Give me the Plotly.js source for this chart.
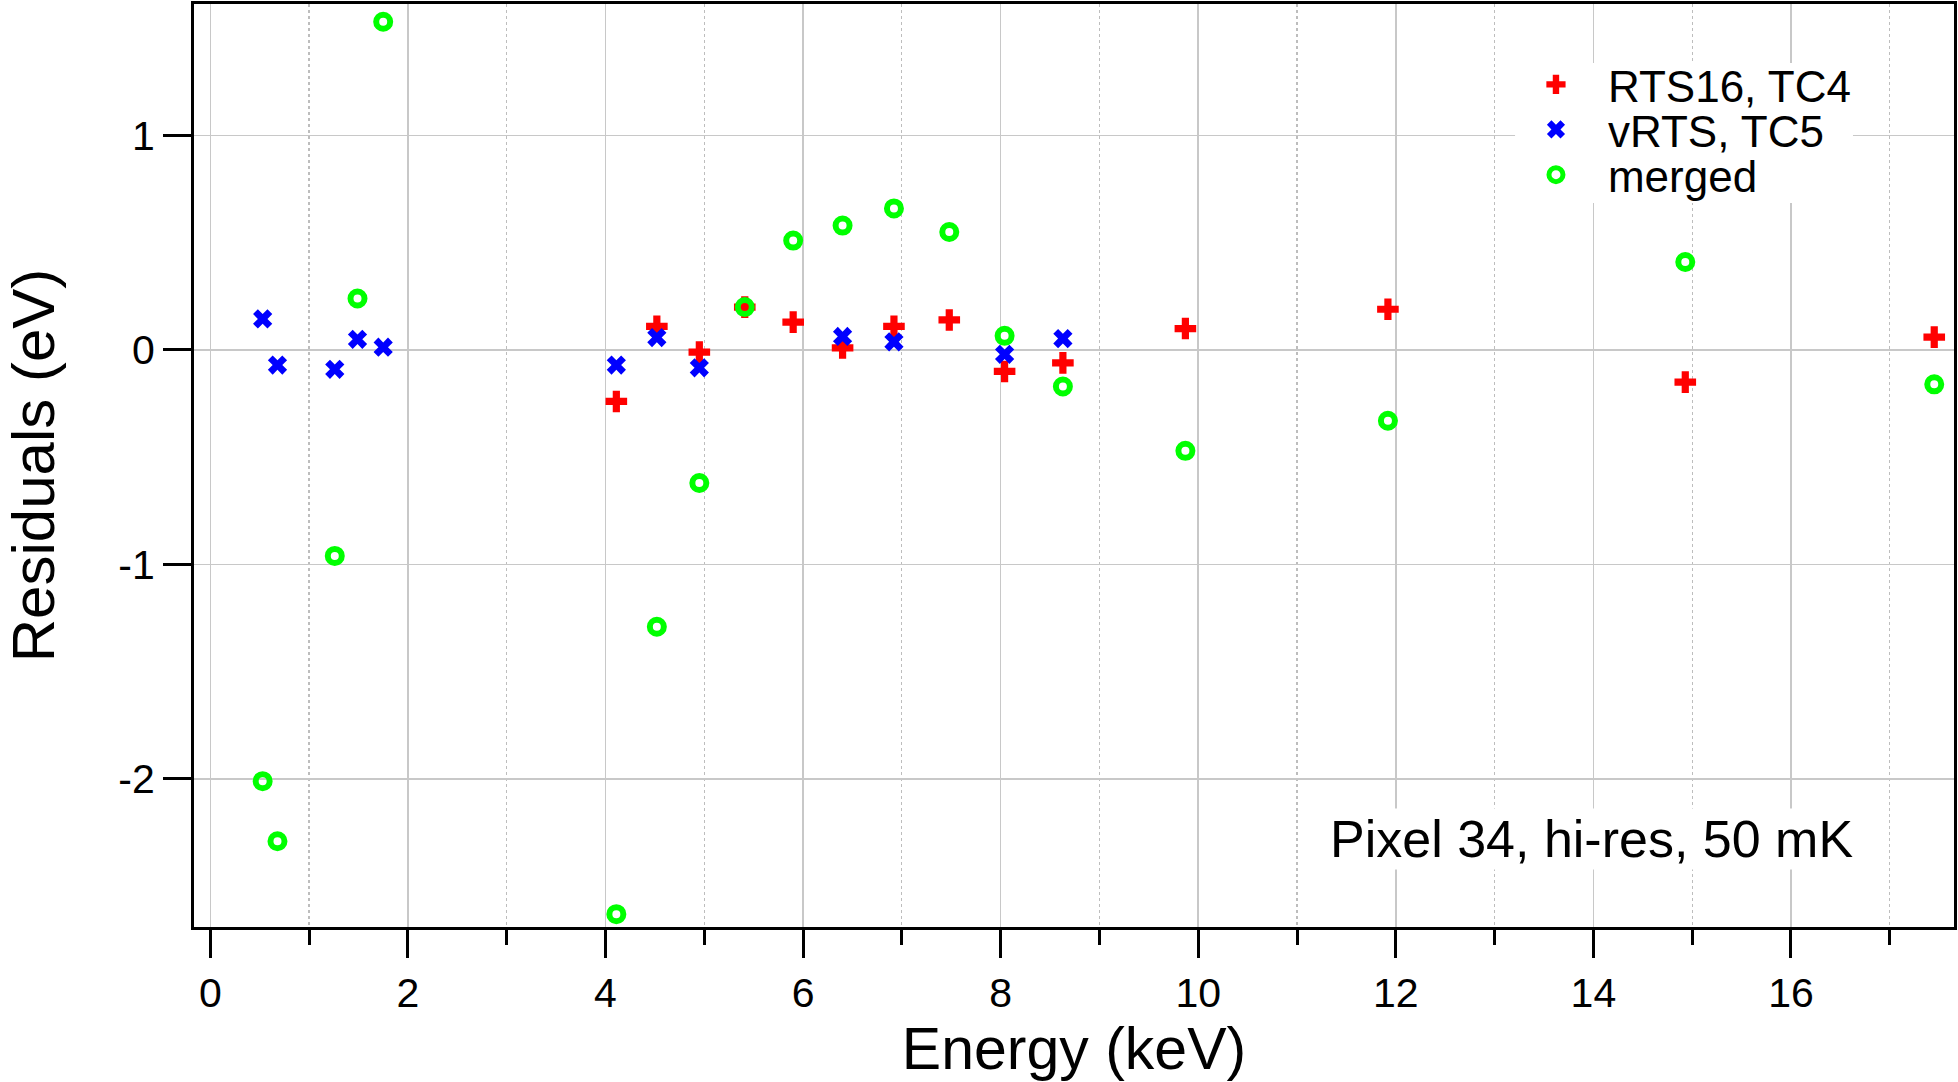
<!DOCTYPE html>
<html>
<head>
<meta charset="utf-8">
<script src="https://cdn.plot.ly/plotly-3.0.1.min.js"></script>
<style>html,body{margin:0;padding:0;background:#fff;}#chart{width:1958px;height:1082px;}</style>
</head>
<body>
<div id="chart"></div>
<script>
// Energies (keV) and residuals (eV)
const rtsEnergy = [4.11, 4.52, 4.95, 5.41, 5.90, 6.40, 6.92, 7.48, 8.04, 8.63, 9.87, 11.92, 14.93, 17.45];
const rtsResid  = [-0.24, 0.11, -0.01, 0.20, 0.13, 0.01, 0.11, 0.14, -0.10, -0.06, 0.10, 0.19, -0.15, 0.06];

const vrtsEnergy = [0.53, 0.68, 1.26, 1.49, 1.75, 4.11, 4.52, 4.95, 6.40, 6.92, 8.04, 8.63];
const vrtsResid  = [0.145, -0.07, -0.09, 0.05, 0.013, -0.07, 0.058, -0.083, 0.063, 0.038, -0.02, 0.053];

const mergedEnergy = [0.53, 0.68, 1.26, 1.49, 1.75, 4.11, 4.52, 4.95, 5.41, 5.90, 6.40, 6.92, 7.48, 8.04, 8.63, 9.87, 11.92, 14.93, 17.45];
const mergedResid  = [-2.01, -2.29, -0.96, 0.24, 1.53, -2.63, -1.29, -0.62, 0.20, 0.51, 0.58, 0.66, 0.55, 0.066, -0.17, -0.47, -0.33, 0.41, -0.16];

const seriesNames = ["RTS16, TC4", "vRTS, TC5", "merged"];
const yTickVals = [-2, -1, 0, 1];
const yTickText = ["-2", "-1", "0", "1"];
const annotationText = "Pixel 34, hi-res, 50 mK";
const xTitle = "Energy (keV)";
const yTitle = "Residuals (eV)";

const FONT = "Liberation Sans, Arial, Helvetica, sans-serif";

const traces = [
  {x: rtsEnergy, y: rtsResid, name: seriesNames[0], legend: "legend", type: "scatter", mode: "markers",
   marker: {symbol: "cross", size: 18, color: "#ff0000", line: {width: 0}}},
  {x: vrtsEnergy, y: vrtsResid, name: seriesNames[1], legend: "legend2", type: "scatter", mode: "markers",
   marker: {symbol: "x", size: 17, color: "#0000ff", line: {width: 0}}},
  {x: mergedEnergy, y: mergedResid, name: seriesNames[2], legend: "legend3", type: "scatter", mode: "markers",
   marker: {symbol: "circle-open", size: 14, color: "#00ff00", line: {width: 6, color: "#00ff00"}}}
];

function legendAt(yc) {
  return {
    x: 0.7443, xanchor: "left", y: yc, yanchor: "middle",
    bgcolor: "rgba(0,0,0,0)", borderwidth: 0,
    font: {family: FONT, size: 44, color: "#000000"},
    itemwidth: 94
  };
}

const layout = {
  width: 1958, height: 1082,
  margin: {l: 194, r: 4, t: 4, b: 155},
  paper_bgcolor: "#ffffff", plot_bgcolor: "#ffffff",
  font: {family: FONT, color: "#000000", size: 40},
  showlegend: true,
  legend: legendAt(0.9125),
  legend2: legendAt(0.8637),
  legend3: legendAt(0.8147),
  xaxis: {
    range: [-0.165, 17.65],
    tickmode: "linear", tick0: 0, dtick: 2,
    ticks: "outside", ticklen: 28, tickwidth: 3, tickcolor: "#000000",
    showline: true, linewidth: 3, linecolor: "#000000", mirror: true,
    showgrid: true, gridcolor: "#c8c8c8", gridwidth: 1.5,
    zeroline: false,
    tickfont: {family: FONT, size: 41, color: "#000000"},
    minor: {dtick: 1, tick0: 0, ticks: "outside", ticklen: 15, tickwidth: 3, tickcolor: "#000000",
            showgrid: true, gridcolor: "#bdbdbd", griddash: "dot", gridwidth: 1.2},
    title: {text: xTitle, font: {family: FONT, size: 59, color: "#000000"}, standoff: 10}
  },
  yaxis: {
    range: [-2.690, 1.613],
    tickmode: "array", tickvals: yTickVals, ticktext: yTickText,
    ticks: "outside", ticklen: 28, tickwidth: 3, tickcolor: "#000000",
    showline: true, linewidth: 3, linecolor: "#000000", mirror: true,
    showgrid: true, gridcolor: "#c8c8c8", gridwidth: 1.5,
    zeroline: false,
    tickfont: {family: FONT, size: 41, color: "#000000"},
    title: {text: yTitle, font: {family: FONT, size: 60, color: "#000000"}, standoff: 45}
  },
  shapes: [{
    type: "rect", xref: "paper", yref: "paper",
    x0: 0.7506, x1: 0.9426, y0: 0.7844, y1: 0.9361,
    fillcolor: "#ffffff", line: {width: 0}, layer: "above"
  }],
  annotations: [{
    text: annotationText, xref: "paper", yref: "paper",
    x: 0.944, xanchor: "right", y: 0.095, yanchor: "middle",
    showarrow: false, bgcolor: "#ffffff",
    font: {family: FONT, size: 52, color: "#000000"}
  }]
};

Plotly.newPlot("chart", traces, layout, {displayModeBar: false, staticPlot: true});
</script>
</body>
</html>
